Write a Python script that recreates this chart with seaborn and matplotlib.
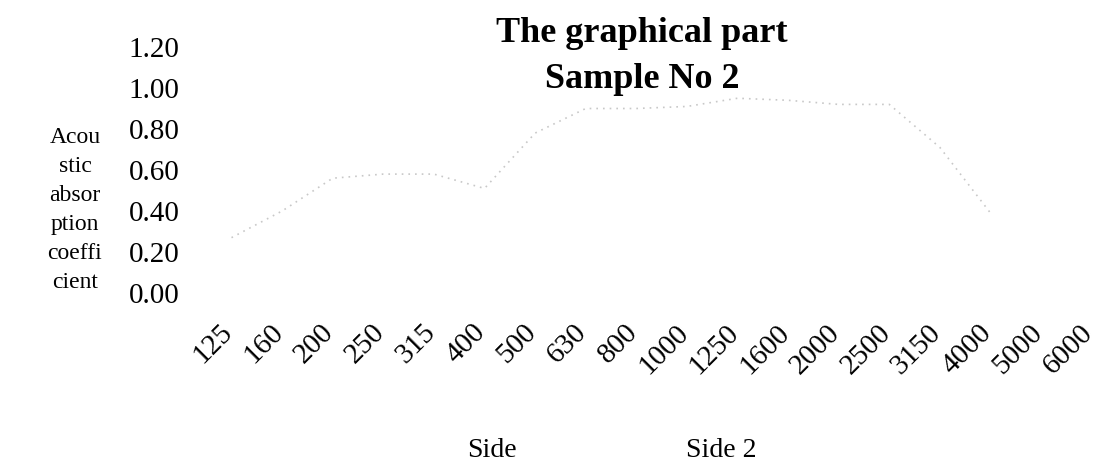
import numpy as np
import pandas as pd
import matplotlib
matplotlib.use("Agg")
import matplotlib.pyplot as plt
import matplotlib.transforms as mtransforms
from matplotlib.lines import Line2D
import seaborn as sns

frequencies = ["125", "160", "200", "250", "315", "400", "500", "630", "800",
               "1000", "1250", "1600", "2000", "2500", "3150", "4000", "5000", "6000"]
side_1 = [0.27, 0.40, 0.56, 0.58, 0.58, 0.51, 0.78, 0.90, 0.90,
          0.91, 0.95, 0.94, 0.92, 0.92, 0.71, 0.39]
y_ticks = [0.0, 0.2, 0.4, 0.6, 0.8, 1.0, 1.2]
series_names = ["Side", "Side 2"]

df = pd.DataFrame({"freq": frequencies[:len(side_1)], "alpha": side_1})

sns.set_theme(style="white", rc={"text.color": "black", "axes.labelcolor": "black",
                                 "xtick.color": "black", "ytick.color": "black"})
plt.rcParams["font.family"] = ["Liberation Serif", "DejaVu Serif"]

W, H = 1098, 462
fig = plt.figure(figsize=(W / 100, H / 100), dpi=100)
ax = fig.add_axes([206.2 / W, 1 - 293 / H, 910.8 / W, 246 / H])

sns.lineplot(data=df, x="freq", y="alpha", ax=ax, sort=False,
             color="#c8c8c8", lw=1.2, linestyle=(0, (1, 3)))

ax.set_xlim(-0.5, len(frequencies) - 0.5)
ax.set_ylim(0, 1.2)
ax.set_xticks(range(len(frequencies)))
ax.set_xticklabels(frequencies, rotation=45, ha="right", rotation_mode="anchor")
ax.set_yticks(y_ticks)
ax.set_yticklabels([f"{v:.2f}" for v in y_ticks])
ax.tick_params(axis="y", length=0, pad=19, labelsize=21)
ax.tick_params(axis="x", length=0, pad=19, labelsize=21)
shift = mtransforms.ScaledTranslation(-0.12, 0, fig.dpi_scale_trans)
for lab in ax.get_xticklabels():
    lab.set_transform(lab.get_transform() + shift)
for s in ax.spines.values():
    s.set_visible(False)
ax.grid(False)

ax.set_xlabel("")
ax.set_ylabel("Acou\nstic\nabsor\nption\ncoeffi\ncient", rotation=0,
              ha="center", va="center", fontsize=17, linespacing=1.5)
ax.yaxis.set_label_coords((75 - 206.2) / 910.8, 0.337)

fig.text(642 / W, 1 - 42 / H, "The graphical part", ha="center", va="baseline",
         fontsize=26, fontweight="bold")
fig.text(642 / W, 1 - 88 / H, "Sample No 2", ha="center", va="baseline",
         fontsize=26, fontweight="bold")

handles = [Line2D([], [], color="none") for _ in series_names]
fig.legend(handles, series_names, loc="center", bbox_to_anchor=(612 / W, 1 - 450 / H),
           ncol=2, frameon=False, fontsize=20, handlelength=0, handletextpad=0,
           columnspacing=6.1)

fig.savefig("out.png", dpi=100, facecolor="white")
